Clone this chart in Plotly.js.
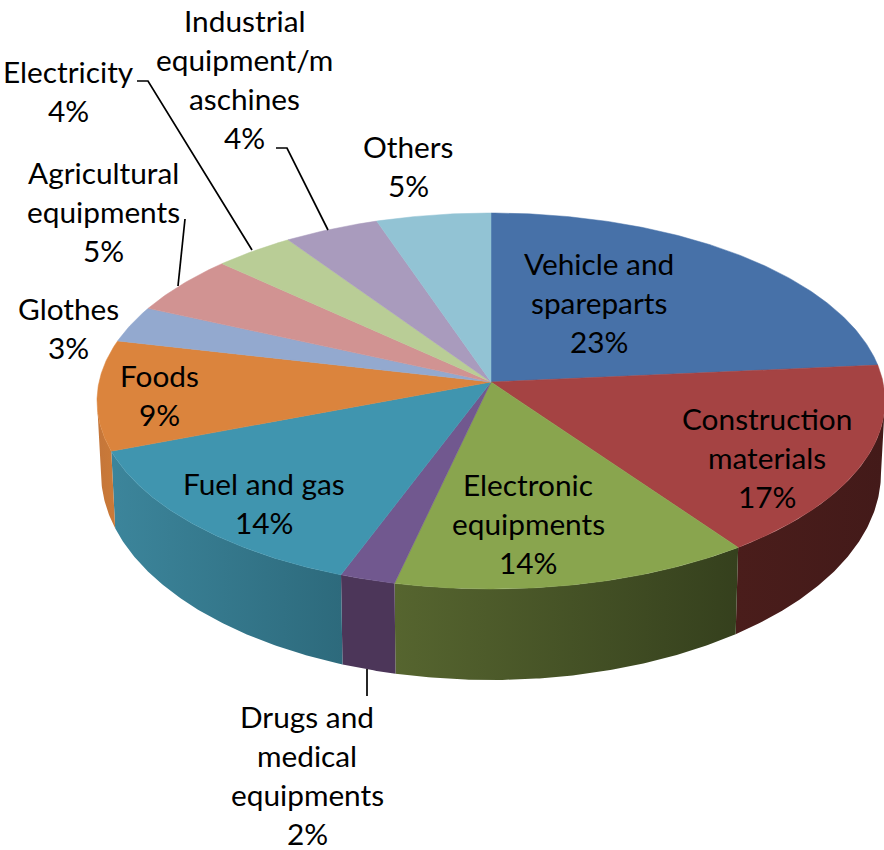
<!DOCTYPE html>
<html>
<head>
<meta charset="utf-8">
<script src="https://cdn.plot.ly/plotly-3.0.1.min.js"></script>
<style>html,body{margin:0;padding:0;background:#fff}#c{width:884px;height:850px}</style>
</head>
<body>
<div id="c"></div>
<script>
// ---- data ----
const categories = ["Vehicle and<br>spareparts","Construction<br>materials","Electronic<br>equipments","Drugs and<br>medical<br>equipments","Fuel and gas","Foods","Glothes","Agricultural<br>equipments","Electricity","Industrial<br>equipment/m<br>aschines","Others"];
// unrounded shares; the printed labels are these rounded
const shares = [23.1,16.8,13.77,2.13,13.8,9.45,3.1,5.05,3.55,4.2,5.05];
const topColors = ["#4771A8","#A54343","#89A54E","#71588F","#4095AF","#DB843D","#93A9CF","#D19392","#B9CD96","#A99BBD","#92C3D4"];
const wallLeft  = ["#2B4464","#4A1D1B","#56652F","#4C3659","#3C859B","#C4763A","#58657C","#7D5858","#6F7B5A","#655D71","#57757F"];
const wallRight = ["#2B4464","#431A19","#35401D","#4C3659","#2D6A7C","#CB7A38","#58657C","#7D5858","#6F7B5A","#655D71","#57757F"];
// label anchors: centre x, first-line centre y
const labelX = [599,767,528,307,264,159,68,103,68,244,408];
const labelY = [263,418,484,716,483,375,308,172,71,20,146];
// ---- view geometry of the tilted disc ----
const CX=491, TOPCY=401, RX=394, RY=188, APEXY=382;
const BOTCY=473, BOTRX=390, BOTRY=207, SKEW=4.2, STEP=39;
const rad=d=>d*Math.PI/180;
const warp=d=>d-SKEW*Math.sin(rad(d));
const total=shares.reduce((a,b)=>a+b,0);
const tx=d=>CX+RX*Math.sin(rad(d)), ty=d=>TOPCY-RY*Math.cos(rad(d));
const bx=d=>CX+BOTRX*Math.sin(rad(d)), by=d=>BOTCY-BOTRY*Math.cos(rad(d));
const traces=[], tops=[];
let cum=0;
shares.forEach((v,i)=>{
  const a=warp(cum/total*360), b=warp((cum+v)/total*360); cum+=v;
  const n=Math.max(6,Math.ceil((b-a)*2));
  const arc=(lo,hi,m)=>Array.from({length:m+1},(_,k)=>lo+(hi-lo)*k/m);
  // top face
  const ds=arc(a,b,n);
  tops.push({type:"scatter",mode:"lines",x:[CX,...ds.map(tx),CX],y:[APEXY,...ds.map(ty),APEXY],
    fill:"toself",fillcolor:topColors[i],line:{width:0.5,color:topColors[i]},hoverinfo:"skip",showlegend:false});
  // visible outer wall
  const lo=Math.max(a,90), hi=Math.min(b,270);
  if(hi>lo){
    const w=arc(lo,hi,Math.max(6,Math.ceil((hi-lo)*2))), r=[...w].reverse();
    traces.push({type:"scatter",mode:"lines",x:[...w.map(tx),...r.map(bx)],y:[...w.map(ty),...r.map(by)],
      fill:"toself",line:{width:0},hoverinfo:"skip",showlegend:false,
      fillgradient:{type:"horizontal",colorscale:[[0,wallLeft[i]],[1,wallRight[i]]]}});
  }
});
const annotations=[];
categories.forEach((c,i)=>{
  [...c.split("<br>"),Math.round(shares[i])+"%"].forEach((t,k)=>{
    annotations.push({text:t,x:labelX[i],y:labelY[i]+k*STEP,xref:"x",yref:"y",xanchor:"center",yanchor:"middle",
      showarrow:false,font:{family:"Lato, Carlito, sans-serif",size:29.8,color:"#000"}});
  });
});
const leader=p=>({type:"path",path:p,xref:"x",yref:"y",line:{color:"#000",width:1.7}});
const layout={width:884,height:850,margin:{l:0,r:0,t:0,b:0},paper_bgcolor:"#fff",plot_bgcolor:"#fff",showlegend:false,
  xaxis:{range:[0,884],visible:false,fixedrange:true},
  yaxis:{range:[850,0],visible:false,fixedrange:true},
  annotations,
  shapes:[leader("M137,81 L148,81 L252,250"),leader("M276,148 L287,148 L328,230"),leader("M185,219 L178,286"),leader("M367,669 L367,696")]
};
Plotly.newPlot("c",[...traces,...tops],layout,{displayModeBar:false,staticPlot:true});
</script>
</body>
</html>
